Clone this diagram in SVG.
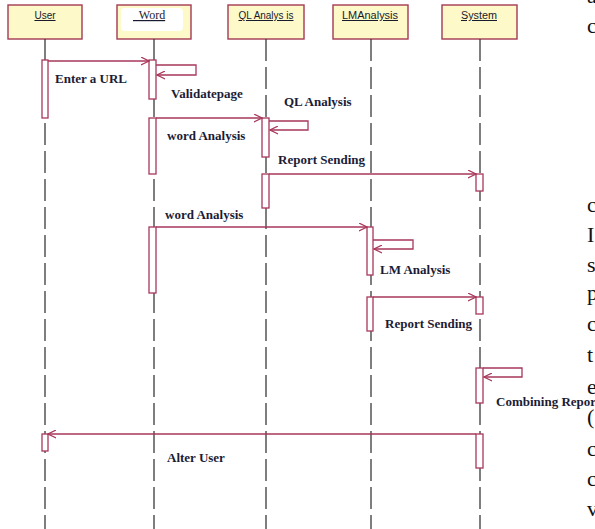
<svg xmlns="http://www.w3.org/2000/svg" width="595" height="529" viewBox="0 0 595 529">
<defs>
<style>
.hdr{fill:#FDF9C8;stroke:#A33A52;stroke-width:1.4}
.hl{font-family:"Liberation Sans",Arial,sans-serif;font-size:10px;fill:#1a1a2e;text-anchor:middle;text-decoration:underline}
.life{stroke:#3a3a3a;stroke-width:1.3;stroke-dasharray:22 6;fill:none}
.act{fill:#fff;stroke:#A8375A;stroke-width:1.3}
.msg{stroke:#A8375A;stroke-width:1.3;fill:none;marker-end:url(#ah)}
.lbl{font-family:"Liberation Serif","Times New Roman",serif;font-size:13px;font-weight:bold;fill:#1c1c36}
.pg{font-family:"Liberation Serif","Times New Roman",serif;font-size:22px;fill:#111}
</style>
<marker id="ah" viewBox="0 0 10 10" refX="9" refY="5" markerWidth="9" markerHeight="9" markerUnits="userSpaceOnUse" orient="auto">
<path d="M0,0.5 L9,5 L0,9.5" fill="none" stroke="#A8375A" stroke-width="1.3"/>
</marker>
</defs>
<rect width="595" height="529" fill="#fff"/>

<g id="user">
<rect class="hdr" x="8" y="5" width="74" height="34"/>
<text class="hl" x="45" y="19">User</text>
<line class="life" x1="45" y1="39" x2="45" y2="529"/>
<rect class="act" x="42" y="60" width="6" height="58"/>
<rect class="act" x="42" y="434" width="6" height="17"/>
</g>

<g id="word">
<rect class="hdr" x="117" y="5" width="74" height="34"/>
<rect x="121" y="8" width="62" height="23" rx="4" fill="#fff"/>
<text x="133" y="19" font-family="'Liberation Serif','Times New Roman',serif" font-size="12" fill="#1a1a2e" text-decoration="underline" xml:space="preserve">  Word</text>
<line class="life" x1="154" y1="39" x2="154" y2="529"/>
<rect class="act" x="149" y="60" width="7" height="39"/>
<rect class="act" x="149" y="118" width="7" height="56"/>
<rect class="act" x="149" y="227" width="7" height="66"/>
</g>

<g id="ql-analysis">
<rect class="hdr" x="228" y="5" width="76" height="34"/>
<text class="hl" x="266" y="19" textLength="55" lengthAdjust="spacingAndGlyphs">QL Analys is</text>
<line class="life" x1="266" y1="39" x2="266" y2="529"/>
<rect class="act" x="262" y="118" width="7" height="39"/>
<rect class="act" x="262" y="174" width="7" height="34"/>
</g>

<g id="lm-analysis">
<rect class="hdr" x="333" y="5" width="75" height="34"/>
<text class="hl" x="370" y="19" textLength="56" lengthAdjust="spacingAndGlyphs">LMAnalysis</text>
<line class="life" x1="371" y1="39" x2="371" y2="529"/>
<rect class="act" x="367" y="227" width="6" height="48"/>
<rect class="act" x="367" y="297" width="6" height="34"/>
</g>

<g id="system">
<rect class="hdr" x="442" y="5" width="75" height="34"/>
<text class="hl" x="479" y="19" textLength="36" lengthAdjust="spacingAndGlyphs">System</text>
<line class="life" x1="480" y1="39" x2="480" y2="529"/>
<rect class="act" x="476" y="174" width="7" height="17"/>
<rect class="act" x="476" y="297" width="7" height="17"/>
<rect class="act" x="476" y="368" width="7" height="35"/>
<rect class="act" x="476" y="434" width="7" height="34"/>
</g>

<g id="connectors">
<line class="msg" x1="48" y1="61" x2="149" y2="61"/>
<text class="lbl" x="55" y="83">Enter a URL</text>
<path class="msg" d="M156,65 H196 V75 H157"/>
<text class="lbl" x="171" y="98">Validatepage</text>
<line class="msg" x1="156" y1="118" x2="262" y2="118"/>
<text class="lbl" x="284" y="106">QL Analysis</text>
<path class="msg" d="M269,121 H308 V130 H270"/>
<text class="lbl" x="167" y="140">word Analysis</text>
<line class="msg" x1="269" y1="174" x2="476" y2="174"/>
<text class="lbl" x="278" y="164">Report Sending</text>
<line class="msg" x1="156" y1="227" x2="367" y2="227"/>
<text class="lbl" x="165" y="219">word Analysis</text>
<path class="msg" d="M373,240 H413 V249 H374"/>
<text class="lbl" x="380" y="274">LM Analysis</text>
<line class="msg" x1="373" y1="297" x2="476" y2="297"/>
<text class="lbl" x="385" y="328">Report Sending</text>
<path class="msg" d="M483,368 H522 V377 H484"/>
<text class="lbl" x="496" y="406" fill="#1a2a5a">Combining Report</text>
<line class="msg" x1="476" y1="434" x2="48" y2="434"/>
<text class="lbl" x="167" y="462">Alter User</text>
</g>

<g id="page-text">
<text class="pg" x="587" y="3">a</text>
<text class="pg" x="587" y="33">c</text>
<text class="pg" x="587" y="212">c</text>
<text class="pg" x="587" y="242">I</text>
<text class="pg" x="587" y="272">s</text>
<text class="pg" x="587" y="300">p</text>
<text class="pg" x="587" y="331">c</text>
<text class="pg" x="587" y="362">t</text>
<text class="pg" x="587" y="394">e</text>
<text class="pg" x="587" y="424">(</text>
<text class="pg" x="587" y="456">c</text>
<text class="pg" x="587" y="486">c</text>
<text class="pg" x="587" y="516">v</text>
</g>
</svg>
